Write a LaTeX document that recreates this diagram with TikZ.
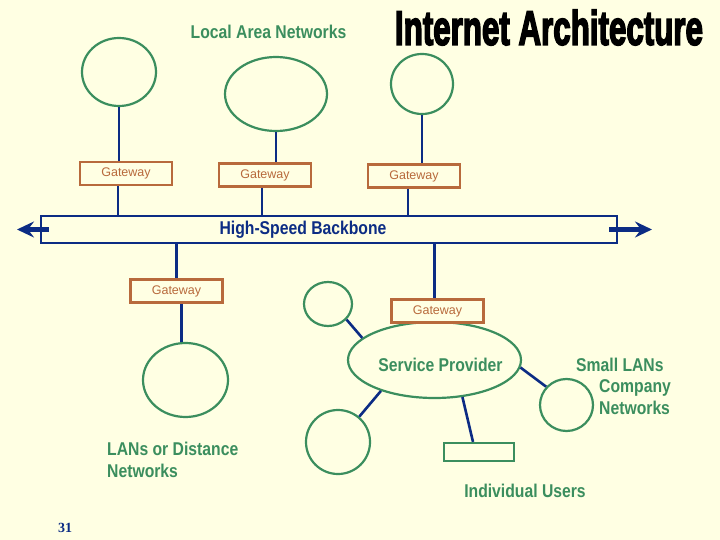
\documentclass[tikz,border=0pt]{standalone}
\usepackage{fontspec}
\setmainfont{Liberation Sans}
\newfontfamily\narrowfont[FakeStretch=0.85]{Liberation Sans}
\newfontfamily\titlefont[FakeBold=4]{Liberation Sans Bold}
\newfontfamily\numfont{Liberation Serif}
\usepackage{graphicx}
\usepackage{tikz}
\usetikzlibrary{arrows.meta,positioning,shapes.geometric}
\usepackage{xcolor}
\definecolor{paper}{HTML}{FFFFE3}
\definecolor{langreen}{HTML}{3B8E5E}
\definecolor{navy}{HTML}{0C2C84}
\definecolor{rust}{HTML}{B86A3C}
\tikzset{
  lan/.style={draw=langreen,line width=2.2pt,ellipse,inner sep=0pt},
  gate/.style={draw=rust,fill=paper,line width=2.5pt,minimum width=92pt,
    minimum height=23pt,inner sep=0pt,text=rust,font=\fontsize{12.5}{14}\selectfont},
  link/.style={draw=navy,line width=2.6pt},
  label/.style={text=langreen,inner sep=0pt,
    font=\narrowfont\bfseries\fontsize{18.5}{21.6}\selectfont},
  backbone/.style={draw=navy,fill=paper,line width=2.2pt,minimum width=576pt,
    minimum height=27pt,inner sep=0pt,text=navy,
    font=\narrowfont\bfseries\fontsize{18.5}{21.6}\selectfont},
  bigarrow/.style={-{Stealth[length=17pt,width=16pt,inset=6pt]},draw=navy,line width=5.5pt}
}
\begin{document}
\begin{tikzpicture}[x=1pt,y=-1pt]
  \fill[paper] (0,0) rectangle (720,540);
  \useasboundingbox (0,0) rectangle (720,540);
  \node[inner sep=0pt] (title) at (549,27.5)
    {\resizebox{308pt}{35pt}{\titlefont Internet Architecture}};
  \node[label] (lanlabel) at (268.5,31.5) {Local Area Networks};
  % local area networks on the backbone
  \node[lan,minimum width=74pt,minimum height=68pt] (c1) at (119,72) {};
  \node[lan,minimum width=102pt,minimum height=74pt] (c2) at (276,94) {};
  \node[lan,minimum width=62pt,minimum height=60pt] (c3) at (422,84) {};
  \node[gate] (g1) at (126,173.5) {Gateway};
  \node[gate] (g2) at (265,175) {Gateway};
  \node[gate] (g3) at (414,176) {Gateway};
  \node[backbone] (bb) at (329,229.5) {\hspace*{-52pt}High-Speed Backbone};
  \coordinate (lefttip) at (17,229.5);
  \coordinate (righttip) at (652,229.5);
  \draw[bigarrow] ([xshift=9pt]bb.west) -- (lefttip);
  \draw[bigarrow] ([xshift=-9pt]bb.east) -- (righttip);
  \draw[link] (c1.south) -- (c1.south |- g1.north);
  \draw[link] (c2.south) -- (c2.south |- g2.north);
  \draw[link] (c3.south) -- (c3.south |- g3.north);
  \draw[link] ([xshift=-8pt]g1.south) -- ([xshift=-8pt]g1.south |- bb.north);
  \draw[link] ([xshift=-3pt]g2.south) -- ([xshift=-3pt]g2.south |- bb.north);
  \draw[link] ([xshift=-6pt]g3.south) -- ([xshift=-6pt]g3.south |- bb.north);
  % distance network
  \node[gate] (g4) at (176.5,291) {Gateway};
  \node[lan,minimum width=85pt,minimum height=74pt] (c4) at (185.5,380) {};
  \draw[link] (g4.north |- bb.south) -- (g4.north);
  \draw[link] ([xshift=5pt]g4.south) -- ([xshift=5pt]g4.south |- c4.north);
  \node[label,anchor=north west,align=left] (distlabel) at (107,442)
    {LANs or Distance\\Networks};
  % service provider
  \node[lan,minimum width=173pt,minimum height=76pt] (sp) at (434.5,360) {};
  \node[label] (splabel) at (440.5,365) {Service Provider};
  \node[gate] (g5) at (437.5,311) {Gateway};
  \draw[link] ([xshift=-3pt]g5.north |- bb.south) -- ([xshift=-3pt]g5.north);
  \node[lan,minimum width=48pt,minimum height=44pt] (c5) at (328,304) {};
  \node[lan,minimum width=53pt,minimum height=52pt] (c6) at (566.5,405) {};
  \node[lan,minimum width=64pt,minimum height=64pt] (c7) at (338,442) {};
  \node[draw=langreen,line width=2.2pt,minimum width=70pt,minimum height=18pt,
    inner sep=0pt] (user) at (479,452) {};
  \draw[link] (sp.163) -- (c5.-40);
  \draw[link] (sp.-5) -- (c6.138);
  \draw[link] (sp.-150) -- (c7.50);
  \draw[link] (sp.-53) -- ([xshift=-6pt]user.north);
  \node[label,anchor=north west,align=left] (smalllabel) at (576,357.5)
    {Small LANs\\\hspace*{23pt}Company\\\hspace*{23pt}Networks};
  \node[label] (userlabel) at (525,491) {Individual Users};
  \node[text=navy,inner sep=0pt,font=\numfont\bfseries\fontsize{14}{16}\selectfont]
    (pagenum) at (65,528) {31};
\end{tikzpicture}
\end{document}
